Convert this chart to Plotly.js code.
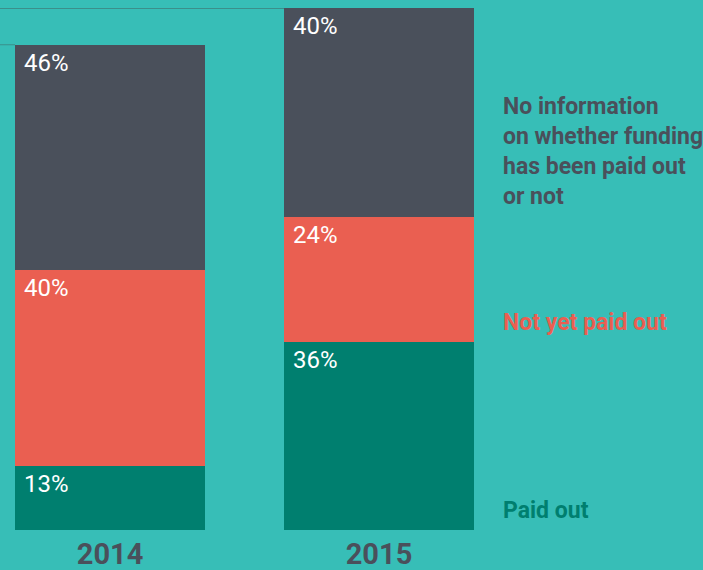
<!DOCTYPE html>
<html>
<head>
<meta charset="utf-8">
<script src="https://cdn.plot.ly/plotly-3.0.1.min.js"></script>
<style>
  html, body { margin: 0; padding: 0; background: #37beb7; }
  #chart { width: 703px; height: 570px; }
</style>
</head>
<body>
<div id="chart"></div>
<script>
// ---- data ----
const years = ["2014", "2015"];
const paidOut = [13, 36];
const notYetPaid = [40, 24];
const noInfo = [46, 40];
const seriesNames = ["Paid out", "Not yet paid out", "No information on whether funding has been paid out or not"];
const legendLines = ["No information<br>on whether funding<br>has been paid out<br>or not", "Not yet paid out", "Paid out"];

// ---- styles ----
const BG = "#37beb7";
const C_DARK = "#4a505b";
const C_RED = "#ea5f51";
const C_GREEN = "#007f6f";
const FONT = "Roboto, Liberation Sans, sans-serif";
const BARW = 0.706;
const yAxes = ["y", "y2"];          // each year drawn on its own scale as in the original
const series = [paidOut, notYetPaid, noInfo];
const colors = [C_GREEN, C_RED, C_DARK];

const traces = [];
const annotations = [];
const shapes = [];

years.forEach((yr, i) => {
  let cum = 0;
  series.forEach((vals, s) => {
    traces.push({
      type: "bar",
      x: [yr],
      y: [vals[i]],
      name: seriesNames[s],
      yaxis: yAxes[i],
      width: BARW,
      marker: { color: colors[s], line: { width: 0 } },
      hoverinfo: "none",
      showlegend: false
    });
    cum += vals[i];
    annotations.push({
      x: i - BARW / 2, y: cum, xref: "x", yref: yAxes[i],
      xanchor: "left", yanchor: "top", xshift: 7, yshift: -2,
      text: vals[i] + "%", showarrow: false,
      font: { family: FONT, size: 24, color: "#ffffff" }
    });
  });
  // thin rule at the top of each bar, running left
  shapes.push({
    type: "line", xref: "x", yref: yAxes[i],
    x0: -0.45, x1: i - BARW / 2, y0: cum, y1: cum,
    line: { color: "#3b8f8b", width: i === 1 ? 2 : 1 }
  });
});

const legendY = [0.726, 0.398, 0.038];
const legendColors = [C_DARK, C_RED, C_GREEN];
legendLines.forEach((t, k) => {
  annotations.push({
    x: 0.712, y: legendY[k], xref: "paper", yref: "paper",
    xanchor: "left", yanchor: "middle", align: "left",
    text: "<b>" + t + "</b>", showarrow: false,
    font: { family: FONT, size: 23, color: legendColors[k] }
  });
});

const layout = {
  width: 703, height: 570,
  margin: { l: 0, r: 0, t: 8, b: 40 },
  paper_bgcolor: BG, plot_bgcolor: BG,
  barmode: "stack",
  showlegend: false,
  xaxis: {
    type: "category",
    range: [-0.409, 2.2045],
    showgrid: false, zeroline: false, showline: false,
    ticks: "", ticklabelstandoff: 4,
    tickfont: { family: FONT, size: 29, color: C_DARK, weight: "bold" }
  },
  yaxis: { range: [0, 106.5], visible: false, showgrid: false, zeroline: false, fixedrange: true },
  yaxis2: { range: [0, 100], overlaying: "y", visible: false, showgrid: false, zeroline: false },
  annotations: annotations,
  shapes: shapes
};

Plotly.newPlot("chart", traces, layout, { displayModeBar: false, staticPlot: true });
</script>
</body>
</html>
